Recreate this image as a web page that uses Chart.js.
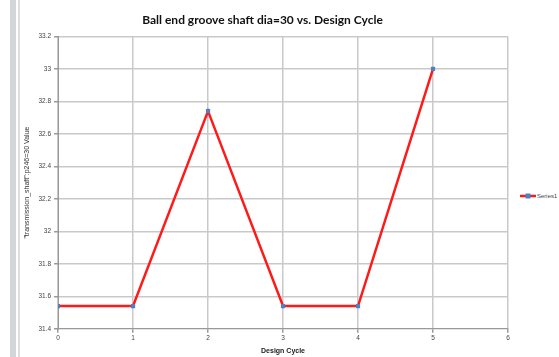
<!DOCTYPE html>
<html>
<head>
<meta charset="utf-8">
<script src="https://cdn.jsdelivr.net/npm/chart.js@4/dist/chart.umd.min.js"></script>
<style>
  html, body { margin: 0; padding: 0; background: #fff; }
  #wrap { position: relative; width: 559px; height: 357px; }
  .bar1 { position: absolute; left: 10px; top: 0; width: 6px; height: 357px; background: #d3d6d9; }
  .bar2 { position: absolute; left: 18px; top: 0; width: 2px; height: 357px; background: #dcdfe2; }
  canvas { position: absolute; left: 0; top: 0; }
</style>
</head>
<body>
<div id="wrap">
  <div class="bar1"></div>
  <div class="bar2"></div>
  <canvas id="c" width="559" height="357"></canvas>
</div>
<script>
// Design cycles and the shaft diameter recorded at each one
const cycles = [0, 1, 2, 3, 4, 5];
const diameters = [31.54, 31.54, 32.74, 31.54, 31.54, 33.0];
const seriesName = 'Series1';
const titleText = 'Ball end groove shaft dia=30 vs. Design Cycle';
const xTitle = 'Design Cycle';
const yTitle = '"transmission_shaft":p246=30 Value';

const points = cycles.map((c, i) => ({ x: c, y: diameters[i] }));

const LINE = '#ff1a1a';
const MARK = '#4f81bd';
const GRID = '#c9c9c9';

// Legend drawn at the right as a line-with-marker sample
const sideLegend = {
  id: 'sideLegend',
  afterDraw(chart) {
    const ctx = chart.ctx;
    const y = 196;
    ctx.save();
    ctx.strokeStyle = LINE;
    ctx.lineWidth = 2.5;
    ctx.beginPath();
    ctx.moveTo(520, y);
    ctx.lineTo(536, y);
    ctx.stroke();
    ctx.fillStyle = MARK;
    ctx.fillRect(525.5, y - 2.5, 5, 5);
    ctx.fillStyle = '#444';
    ctx.font = '6px "Liberation Sans", sans-serif';
    ctx.textBaseline = 'middle';
    ctx.fillText(seriesName, 537, y);
    ctx.restore();
  }
};

new Chart(document.getElementById('c'), {
  type: 'scatter',
  data: {
    datasets: [{
      label: seriesName,
      data: points,
      showLine: true,
      borderColor: LINE,
      borderWidth: 2.5,
      backgroundColor: MARK,
      pointStyle: 'rect',
      pointRadius: 3,
      pointBorderWidth: 0,
      pointBackgroundColor: MARK,
      tension: 0
    }]
  },
  options: {
    responsive: false,
    animation: false,
    layout: { padding: { left: 17, right: 51, top: 5, bottom: 2 } },
    plugins: {
      legend: { display: false },
      tooltip: { enabled: false },
      title: {
        display: true,
        text: titleText,
        color: '#111',
        font: { family: 'Lato, "Open Sans", sans-serif', size: 12, weight: 'bold' },
        padding: { top: 8, bottom: 9 }
      }
    },
    scales: {
      x: {
        type: 'linear',
        min: 0, max: 6,
        ticks: { stepSize: 1, color: '#444', font: { size: 6.5, family: '"Liberation Sans", sans-serif' }, padding: 2 },
        grid: { color: GRID, lineWidth: 1.5, tickLength: 4, tickColor: '#999' },
        border: { color: '#999', width: 1 },
        title: {
          display: true, text: xTitle, color: '#222',
          font: { size: 7, weight: 'bold', family: '"Liberation Sans", sans-serif' },
          padding: { top: 2, bottom: 0 }
        }
      },
      y: {
        min: 31.4, max: 33.2,
        ticks: {
          stepSize: 0.2, color: '#444',
          font: { size: 6.5, family: '"Liberation Sans", sans-serif' }, padding: 3,
          callback: v => String(Number(v.toFixed(1)))
        },
        grid: { color: GRID, lineWidth: 1.5, tickLength: 4, tickColor: '#999' },
        border: { color: '#999', width: 1 },
        title: {
          display: true, text: yTitle, color: '#333',
          font: { size: 7, family: '"Liberation Sans", sans-serif' },
          padding: { top: 6, bottom: 4 }
        }
      }
    }
  },
  plugins: [sideLegend]
});
</script>
</body>
</html>
